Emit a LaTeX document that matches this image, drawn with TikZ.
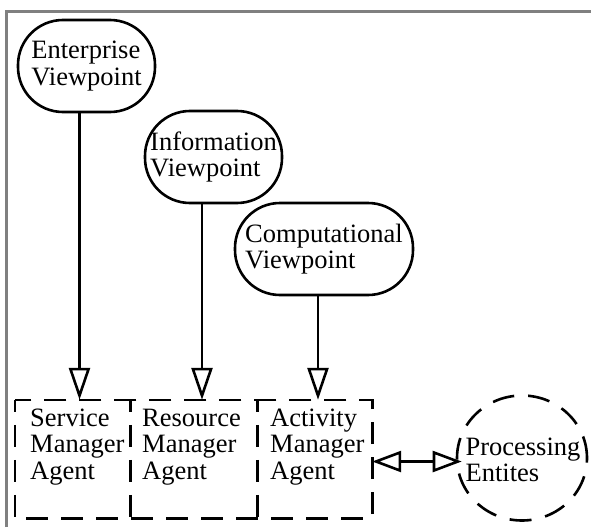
\documentclass[tikz,border=0pt]{standalone}
\usepackage{fontspec}
\setmainfont{Liberation Serif}
\usetikzlibrary{arrows.meta,shapes.geometric}
\definecolor{framegray}{RGB}{128,128,128}
\begin{document}
\begin{tikzpicture}[x=1pt,y=-1pt,
  lbl/.style={font=\fontsize{26.5}{26.5}\selectfont, align=left, inner sep=0pt},
  view/.style={lbl, draw, line width=2.6pt, rounded corners=45pt, minimum width=#1, minimum height=92pt},
  agentbox/.style={minimum width=#1, minimum height=118pt, inner sep=0pt},
  dsh/.style={line width=2.6pt, dash pattern=on 22pt off 13pt, dash phase=10pt},
  proc/.style={ellipse, draw, line width=2.6pt, dash pattern=on 22pt off 14pt, minimum width=130pt, minimum height=125pt, inner sep=0pt},
  conn/.style={line width=2.6pt, -{Triangle[open, length=32pt, width=21pt]}},
  dbl/.style={line width=2.6pt, {Triangle[open, length=29pt, width=21pt]}-{Triangle[open, length=29pt, width=21pt]}}
]
\useasboundingbox (0,0) rectangle (591,527);
\draw[framegray, line width=3pt] (6.5,527) -- (6.5,11.5) -- (591,11.5);

\node[view=137pt] (ent) at (86.5,66) {Enterprise\\Viewpoint};
\node[view=137pt] (inf) at (213.5,157) {Information\\Viewpoint};
\node[view=178pt] (cmp) at (324,249) {Computational\\Viewpoint};

\node[agentbox=115pt] (sm) at (72.5,459) {};
\node[agentbox=127pt] (rm) at (193.5,459) {};
\node[agentbox=115pt] (am) at (314.5,459) {};
\node[lbl, anchor=west] (smt) at (30,447) {Service\\Manager\\Agent};
\node[lbl, anchor=west] (rmt) at (142,447) {Resource\\Manager\\Agent};
\node[lbl, anchor=west] (amt) at (270,447) {Activity\\Manager\\Agent};
\draw[dsh] (sm.north west) rectangle (am.south east);
\draw[dsh] (sm.north east) -- (sm.south east);
\draw[dsh] (rm.north east) -- (rm.south east);

\node[proc] (pe) at (522,458) {};
\node[lbl] (pet) at (523,460) {Processing\\Entites};

\coordinate (e1) at ([xshift=-7pt]ent.south);
\draw[conn] (e1) -- (e1 |- sm.north);
\coordinate (i1) at ([xshift=-11.5pt]inf.south);
\draw[conn] (i1) -- (i1 |- rm.north);
\coordinate (c1) at ([xshift=-6pt]cmp.south);
\draw[conn] (c1) -- (c1 |- am.north);

\coordinate (d1) at ([yshift=-2.5pt]am.east);
\draw[dbl, shorten >=-6pt] (d1) -- (d1 -| pe.west);
\end{tikzpicture}
\end{document}
